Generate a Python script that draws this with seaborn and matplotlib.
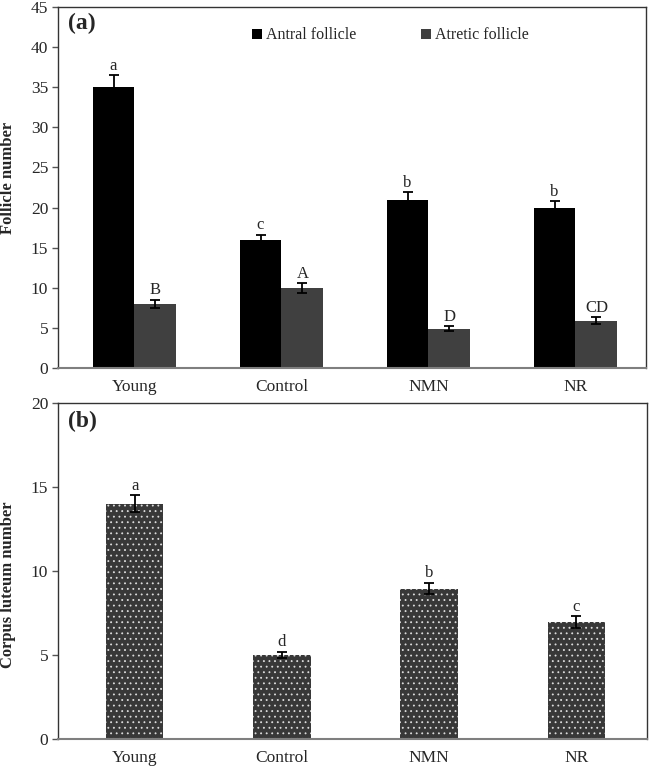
import numpy as np
import pandas as pd
import matplotlib
matplotlib.use('Agg')
import matplotlib.pyplot as plt
import seaborn as sns

# 数据
groups = ['Young', 'Control', 'NMN', 'NR']
antral = [35.0, 16.0, 20.9, 19.9]
antral_err = [1.5, 0.6, 1.0, 0.9]
antral_sig = ['a', 'c', 'b', 'b']
atretic = [8.0, 10.0, 4.9, 5.9]
atretic_err = [0.5, 0.6, 0.3, 0.4]
atretic_sig = ['B', 'A', 'D', 'CD']
luteum = [14.0, 5.0, 8.95, 6.95]
luteum_err = [0.5, 0.2, 0.35, 0.35]
luteum_sig = ['a', 'd', 'b', 'c']

sns.set_style('white')
plt.rcParams['font.family'] = ['Liberation Serif', 'DejaVu Serif']
plt.rcParams['hatch.color'] = '#dddddd'
plt.rcParams['hatch.linewidth'] = 0.6

fig = plt.figure(figsize=(6.49, 7.68), dpi=100)
ax1 = fig.add_axes([0.0894, 0.5208, 0.906, 0.470])
ax2 = fig.add_axes([0.0894, 0.0378, 0.9075, 0.4375])

# (a) 卵泡数量
df = pd.DataFrame({
    'group': groups * 2,
    'value': antral + atretic,
    'type': ['Antral follicle'] * 4 + ['Atretic follicle'] * 4,
})
sns.barplot(data=df, x='group', y='value', hue='type', order=groups,
            palette=['#000000', '#404040'], width=0.57, errorbar=None,
            saturation=1, linewidth=0, ax=ax1)

for cont, errs, sigs in zip(ax1.containers, [antral_err, atretic_err],
                            [antral_sig, atretic_sig]):
    for bar, e, s in zip(cont.patches, errs, sigs):
        xc = bar.get_x() + bar.get_width() / 2
        h = bar.get_height()
        ax1.errorbar(xc, h, yerr=e, fmt='none', ecolor='black',
                     elinewidth=1.3, capsize=3.5, capthick=1.3)
        ax1.annotate(s, (xc, h + e), xytext=(0, 1), textcoords='offset points',
                     ha='center', va='bottom', fontsize=12)

ax1.set_ylim(0, 45)
ax1.set_yticks(np.arange(0, 46, 5))
ax1.set_xlabel('')
ax1.set_ylabel('Follicle number', fontsize=12, fontweight='bold')
ax1.yaxis.set_label_coords(-0.072, 0.526)
ax1.text(0.017, 0.985, '(a)', transform=ax1.transAxes, fontsize=17,
         fontweight='bold', va='top')
leg = ax1.legend(loc='center left', bbox_to_anchor=(0.33, 0.922), ncol=2,
                 frameon=False, fontsize=11.5, handlelength=0.6,
                 handleheight=0.6, handletextpad=0.25, columnspacing=4.1,
                 borderpad=0, borderaxespad=0)

# (b) 黄体数量
df2 = pd.DataFrame({'group': groups, 'value': luteum})
sns.barplot(data=df2, x='group', y='value', order=groups, color='#383838',
            width=0.39, errorbar=None, saturation=1, linewidth=0, ax=ax2)
for bar, e, s in zip(ax2.containers[0].patches, luteum_err, luteum_sig):
    bar.set_hatch('...')
    bar.set_edgecolor('#dddddd')
    xc = bar.get_x() + bar.get_width() / 2
    h = bar.get_height()
    ax2.errorbar(xc, h, yerr=e, fmt='none', ecolor='black',
                 elinewidth=1.3, capsize=3.5, capthick=1.3)
    ax2.annotate(s, (xc, h + e), xytext=(0, 1), textcoords='offset points',
                 ha='center', va='bottom', fontsize=12)

ax2.set_ylim(0, 20)
ax2.set_yticks(np.arange(0, 21, 5))
ax2.set_xlabel('')
ax2.set_ylabel('Corpus luteum number', fontsize=12, fontweight='bold')
ax2.yaxis.set_label_coords(-0.072, 0.458)
ax2.text(0.017, 0.975, '(b)', transform=ax2.transAxes, fontsize=17,
         fontweight='bold', va='top')

for ax in (ax1, ax2):
    ax.set_xlim(-0.52, 3.48)
    for side in ['top', 'right', 'left']:
        ax.spines[side].set_color('#333333')
        ax.spines[side].set_linewidth(1.0)
    ax.spines['bottom'].set_color('#7f7f7f')
    ax.spines['bottom'].set_linewidth(1.5)
    ax.tick_params(axis='x', length=0, labelsize=12.5, pad=8)
    ax.tick_params(axis='y', length=4, width=1, color='#555555',
                   direction='out', left=True, labelsize=12.5, pad=3)

fig.savefig('out.png', dpi=100)
plt.close(fig)
